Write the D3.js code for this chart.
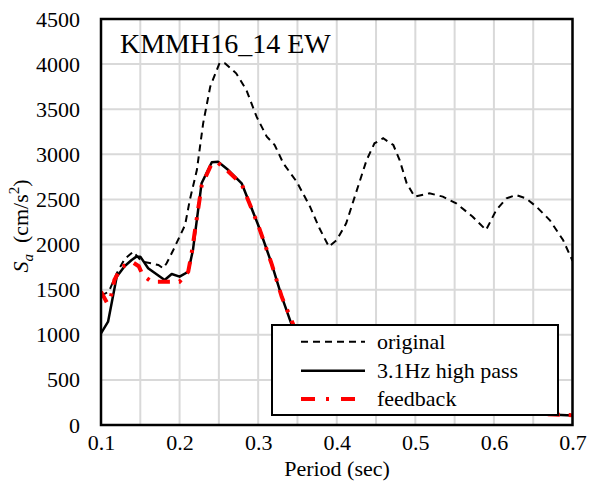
<!DOCTYPE html>
<html>
<head>
<meta charset="utf-8">
<script src="https://cdn.jsdelivr.net/npm/d3@7"></script>
<style>
  html, body { margin: 0; padding: 0; background: #fff; }
  svg { display: block; }
  svg text { font-family: "Liberation Serif", "Times New Roman", Times, serif; fill: #000; }
</style>
</head>
<body>
<svg id="chart" width="589" height="487"></svg>
<script>
// ---- data ----
const titleText = "KMMH16_14 EW";
const xTicks = [0.1, 0.2, 0.3, 0.4, 0.5, 0.6, 0.7];
const yTicks = [0, 500, 1000, 1500, 2000, 2500, 3000, 3500, 4000, 4500];
const seriesNames = ["original", "3.1Hz high pass", "feedback"];

const originalPeriod = [0.100, 0.110, 0.120, 0.130, 0.141, 0.152, 0.165, 0.173, 0.179, 0.1835, 0.192, 0.207, 0.213, 0.222, 0.230, 0.239, 0.251, 0.258, 0.272, 0.285, 0.298, 0.311, 0.321, 0.332, 0.349, 0.366, 0.378, 0.390, 0.400, 0.412, 0.427, 0.438, 0.448, 0.459, 0.472, 0.480, 0.489, 0.499, 0.518, 0.535, 0.552, 0.573, 0.590, 0.603, 0.616, 0.628, 0.641, 0.654, 0.671, 0.688, 0.700];
const originalSa = [1430, 1480, 1680, 1840, 1921, 1810, 1790, 1773, 1737, 1792, 1940, 2217, 2494, 2826, 3344, 3750, 4016, 4008, 3898, 3713, 3417, 3195, 3104, 2900, 2697, 2420, 2180, 1976, 2050, 2235, 2641, 2937, 3122, 3178, 3103, 2937, 2679, 2531, 2568, 2531, 2457, 2309, 2161, 2383, 2512, 2549, 2512, 2420, 2272, 2050, 1820];

const highPassPeriod = [0.100, 0.109, 0.120, 0.130, 0.139, 0.145, 0.150, 0.160, 0.181, 0.190, 0.200, 0.211, 0.217, 0.228, 0.241, 0.249, 0.262, 0.279, 0.300, 0.317, 0.330, 0.342, 0.355, 0.370, 0.390, 0.420, 0.460, 0.500, 0.550, 0.600, 0.650, 0.700];
const highPassSa = [1016, 1145, 1644, 1760, 1829, 1866, 1866, 1737, 1607, 1674, 1644, 1699, 1940, 2679, 2912, 2918, 2826, 2679, 2217, 1792, 1422, 1127, 880, 650, 450, 320, 240, 200, 170, 150, 125, 105];

const feedbackPeriod = [0.100, 0.108, 0.113, 0.117, 0.126, 0.141, 0.148, 0.153, 0.164, 0.183, 0.200, 0.211, 0.215, 0.228, 0.241, 0.249, 0.262, 0.279, 0.300, 0.317, 0.330, 0.344, 0.355, 0.370, 0.390, 0.420, 0.460, 0.500, 0.550, 0.600, 0.650, 0.700];
const feedbackSa = [1478, 1349, 1441, 1607, 1755, 1800, 1760, 1663, 1589, 1589, 1589, 1699, 1884, 2650, 2900, 2905, 2810, 2670, 2217, 1790, 1420, 1127, 885, 655, 455, 325, 245, 205, 172, 150, 126, 108];

// ---- layout ----
const svg = d3.select("#chart");
const L = 101, R = 572.5, T = 19, B = 425;
const x = d3.scaleLinear().domain([0.1, 0.7]).range([L, R]);
const y = d3.scaleLinear().domain([0, 4500]).range([B, T]);

// gridlines
const xGrid = d3.range(0, 13).map(i => 0.1 + i * 0.05);
svg.append("g").selectAll("line").data(xGrid).join("line")
  .attr("x1", d => x(d)).attr("x2", d => x(d))
  .attr("y1", T).attr("y2", B)
  .attr("stroke", "#d9d9d9").attr("stroke-width", 2);
svg.append("g").selectAll("line").data(yTicks).join("line")
  .attr("x1", L).attr("x2", R)
  .attr("y1", d => y(d)).attr("y2", d => y(d))
  .attr("stroke", "#d9d9d9").attr("stroke-width", 2);

// clip
svg.append("clipPath").attr("id", "plotclip").append("rect")
  .attr("x", L).attr("y", T).attr("width", R - L).attr("height", B - T);

const line = d3.line().x(d => x(d[0])).y(d => y(d[1]));
const plot = svg.append("g").attr("clip-path", "url(#plotclip)");

plot.append("path").datum(d3.zip(originalPeriod, originalSa))
  .attr("d", line).attr("fill", "none").attr("stroke", "#000")
  .attr("stroke-width", 2).attr("stroke-dasharray", "7,5");
plot.append("path").datum(d3.zip(highPassPeriod, highPassSa))
  .attr("d", line).attr("fill", "none").attr("stroke", "#000")
  .attr("stroke-width", 2.5).attr("stroke-linejoin", "round");
plot.append("path").datum(d3.zip(feedbackPeriod, feedbackSa))
  .attr("d", line).attr("fill", "none").attr("stroke", "#ff0000")
  .attr("stroke-width", 4).attr("stroke-dasharray", "12,9,3,9");

// frame
svg.append("rect").attr("x", L).attr("y", T).attr("width", R - L).attr("height", B - T)
  .attr("fill", "none").attr("stroke", "#000").attr("stroke-width", 2.5);

// axes (labels only)
const xAxis = d3.axisBottom(x).tickValues(xTicks).tickSize(0).tickPadding(9).tickFormat(d3.format(".1f"));
const gx = svg.append("g").attr("transform", `translate(0,${B})`).call(xAxis)
  .attr("font-family", null).attr("font-size", 22);
gx.select(".domain").remove();
gx.selectAll("text").attr("fill", "#000");

const yAxis = d3.axisLeft(y).tickValues(yTicks).tickSize(0).tickPadding(21).tickFormat(d3.format("d"));
const gy = svg.append("g").attr("transform", `translate(${L},0)`).call(yAxis)
  .attr("font-family", null).attr("font-size", 22);
gy.select(".domain").remove();
gy.selectAll("text").attr("fill", "#000");

// axis titles
svg.append("text").attr("x", 337).attr("y", 476).attr("text-anchor", "middle")
  .attr("font-size", 22).text("Period (sec)");

const yl = svg.append("text").attr("transform", "translate(28,226) rotate(-90)")
  .attr("text-anchor", "middle").attr("font-size", 22);
yl.append("tspan").attr("font-style", "italic").text("S");
yl.append("tspan").attr("font-style", "italic").attr("font-size", 15).attr("dy", 5).text("a");
yl.append("tspan").attr("dy", -5).text("\u00a0\u00a0(cm/s");
yl.append("tspan").attr("font-size", 15).attr("dy", -9).text("2");
yl.append("tspan").attr("dy", 9).text(")");

// title
svg.append("text").attr("x", 120).attr("y", 53).attr("font-size", 28).text(titleText);

// legend
const lg = svg.append("g");
lg.append("rect").attr("x", 272).attr("y", 325).attr("width", 286).attr("height", 90)
  .attr("fill", "#fff").attr("stroke", "#000").attr("stroke-width", 2);
const rowsY = [341.7, 370.7, 399];
const styles = [
  { stroke: "#000", w: 2, dash: "7,5" },
  { stroke: "#000", w: 2.5, dash: null },
  { stroke: "#ff0000", w: 4, dash: "14,11,3,12" }
];
seriesNames.forEach((name, i) => {
  const s = styles[i];
  const l = lg.append("line").attr("x1", 301).attr("x2", 365)
    .attr("y1", rowsY[i]).attr("y2", rowsY[i])
    .attr("stroke", s.stroke).attr("stroke-width", s.w);
  if (s.dash) l.attr("stroke-dasharray", s.dash);
  lg.append("text").attr("x", 377).attr("y", rowsY[i] + 7).attr("font-size", 22).text(name);
});
</script>
</body>
</html>
